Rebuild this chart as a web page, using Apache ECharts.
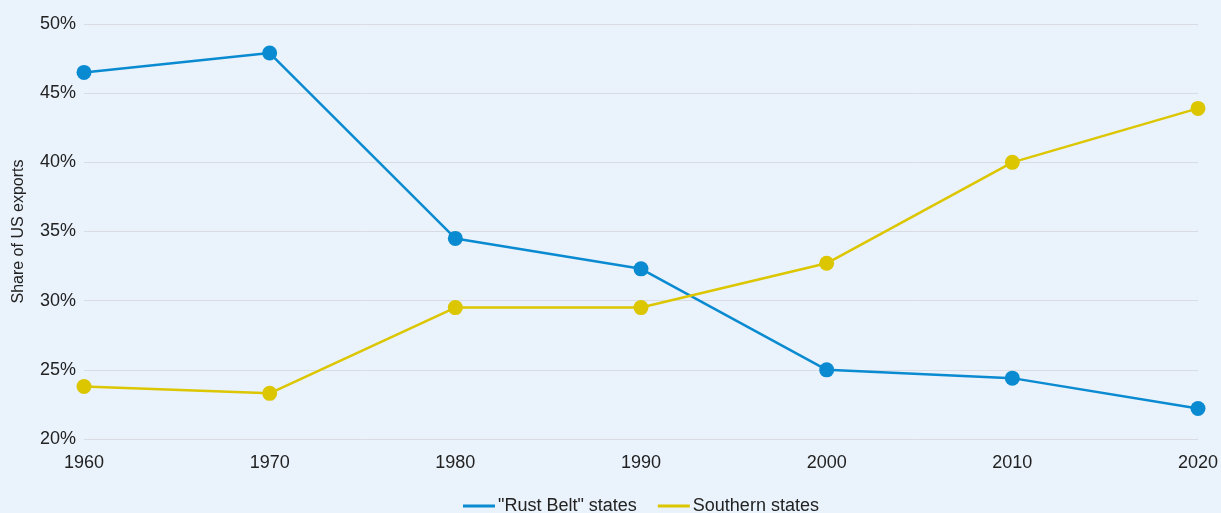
<!DOCTYPE html>
<html><head><meta charset="utf-8">
<script src="https://cdn.jsdelivr.net/npm/echarts@6/dist/echarts.min.js"></script>
<style>html,body{margin:0;padding:0;background:#eaf2fb;}#c{width:1221px;height:513px;}</style>
</head><body><div id="c"></div>
<script>
const years = ['1960','1970','1980','1990','2000','2010','2020'];
const rustBelt = [46.5, 47.9, 34.5, 32.3, 25.0, 24.4, 22.2];
const southern = [23.8, 23.3, 29.5, 29.5, 32.7, 40.0, 43.9];
const chart = echarts.init(document.getElementById('c'));
const font = 'Liberation Sans, Arial, Helvetica, sans-serif';
chart.setOption({
  backgroundColor: '#eaf2fb',
  textStyle: {fontFamily: font},
  grid: {left: 84, right: 23, top: 24, bottom: 74, outerBoundsMode: 'none', containLabel: false},
  legend: {
    left: 463, top: 497, itemWidth: 32, itemHeight: 3, itemGap: 21, padding: 0,
    icon: 'rect',
    textStyle: {fontSize: 18, color: '#222', fontFamily: font, padding:[0,0,0,-2]},
    data: ['"Rust Belt" states', 'Southern states']
  },
  xAxis: {
    type: 'category', data: years, boundaryGap: false,
    axisLine: {show: false}, axisTick: {show: false},
    axisLabel: {fontSize: 18, color: '#222', margin: 15, fontFamily: font}
  },
  yAxis: {
    type: 'value', min: 20, max: 50, interval: 5,
    name: 'Share of US exports', nameLocation: 'middle', nameGap: 57,
    nameTextStyle: {fontSize: 16, color: '#222', fontFamily: font},
    axisLine: {show: false}, axisTick: {show: false},
    axisLabel: {formatter: '{value}%', fontSize: 18, color: '#222', margin: 8, fontFamily: font},
    splitLine: {lineStyle: {color: '#d8dce2', width: 1}}
  },
  series: [
    {name: '"Rust Belt" states', type: 'line', data: rustBelt, color: '#0a8bd1',
     symbol: 'circle', symbolSize: 15, lineStyle: {width: 2.5}},
    {name: 'Southern states', type: 'line', data: southern, color: '#dcc600',
     symbol: 'circle', symbolSize: 15, lineStyle: {width: 2.5}}
  ]
});
</script></body></html>
